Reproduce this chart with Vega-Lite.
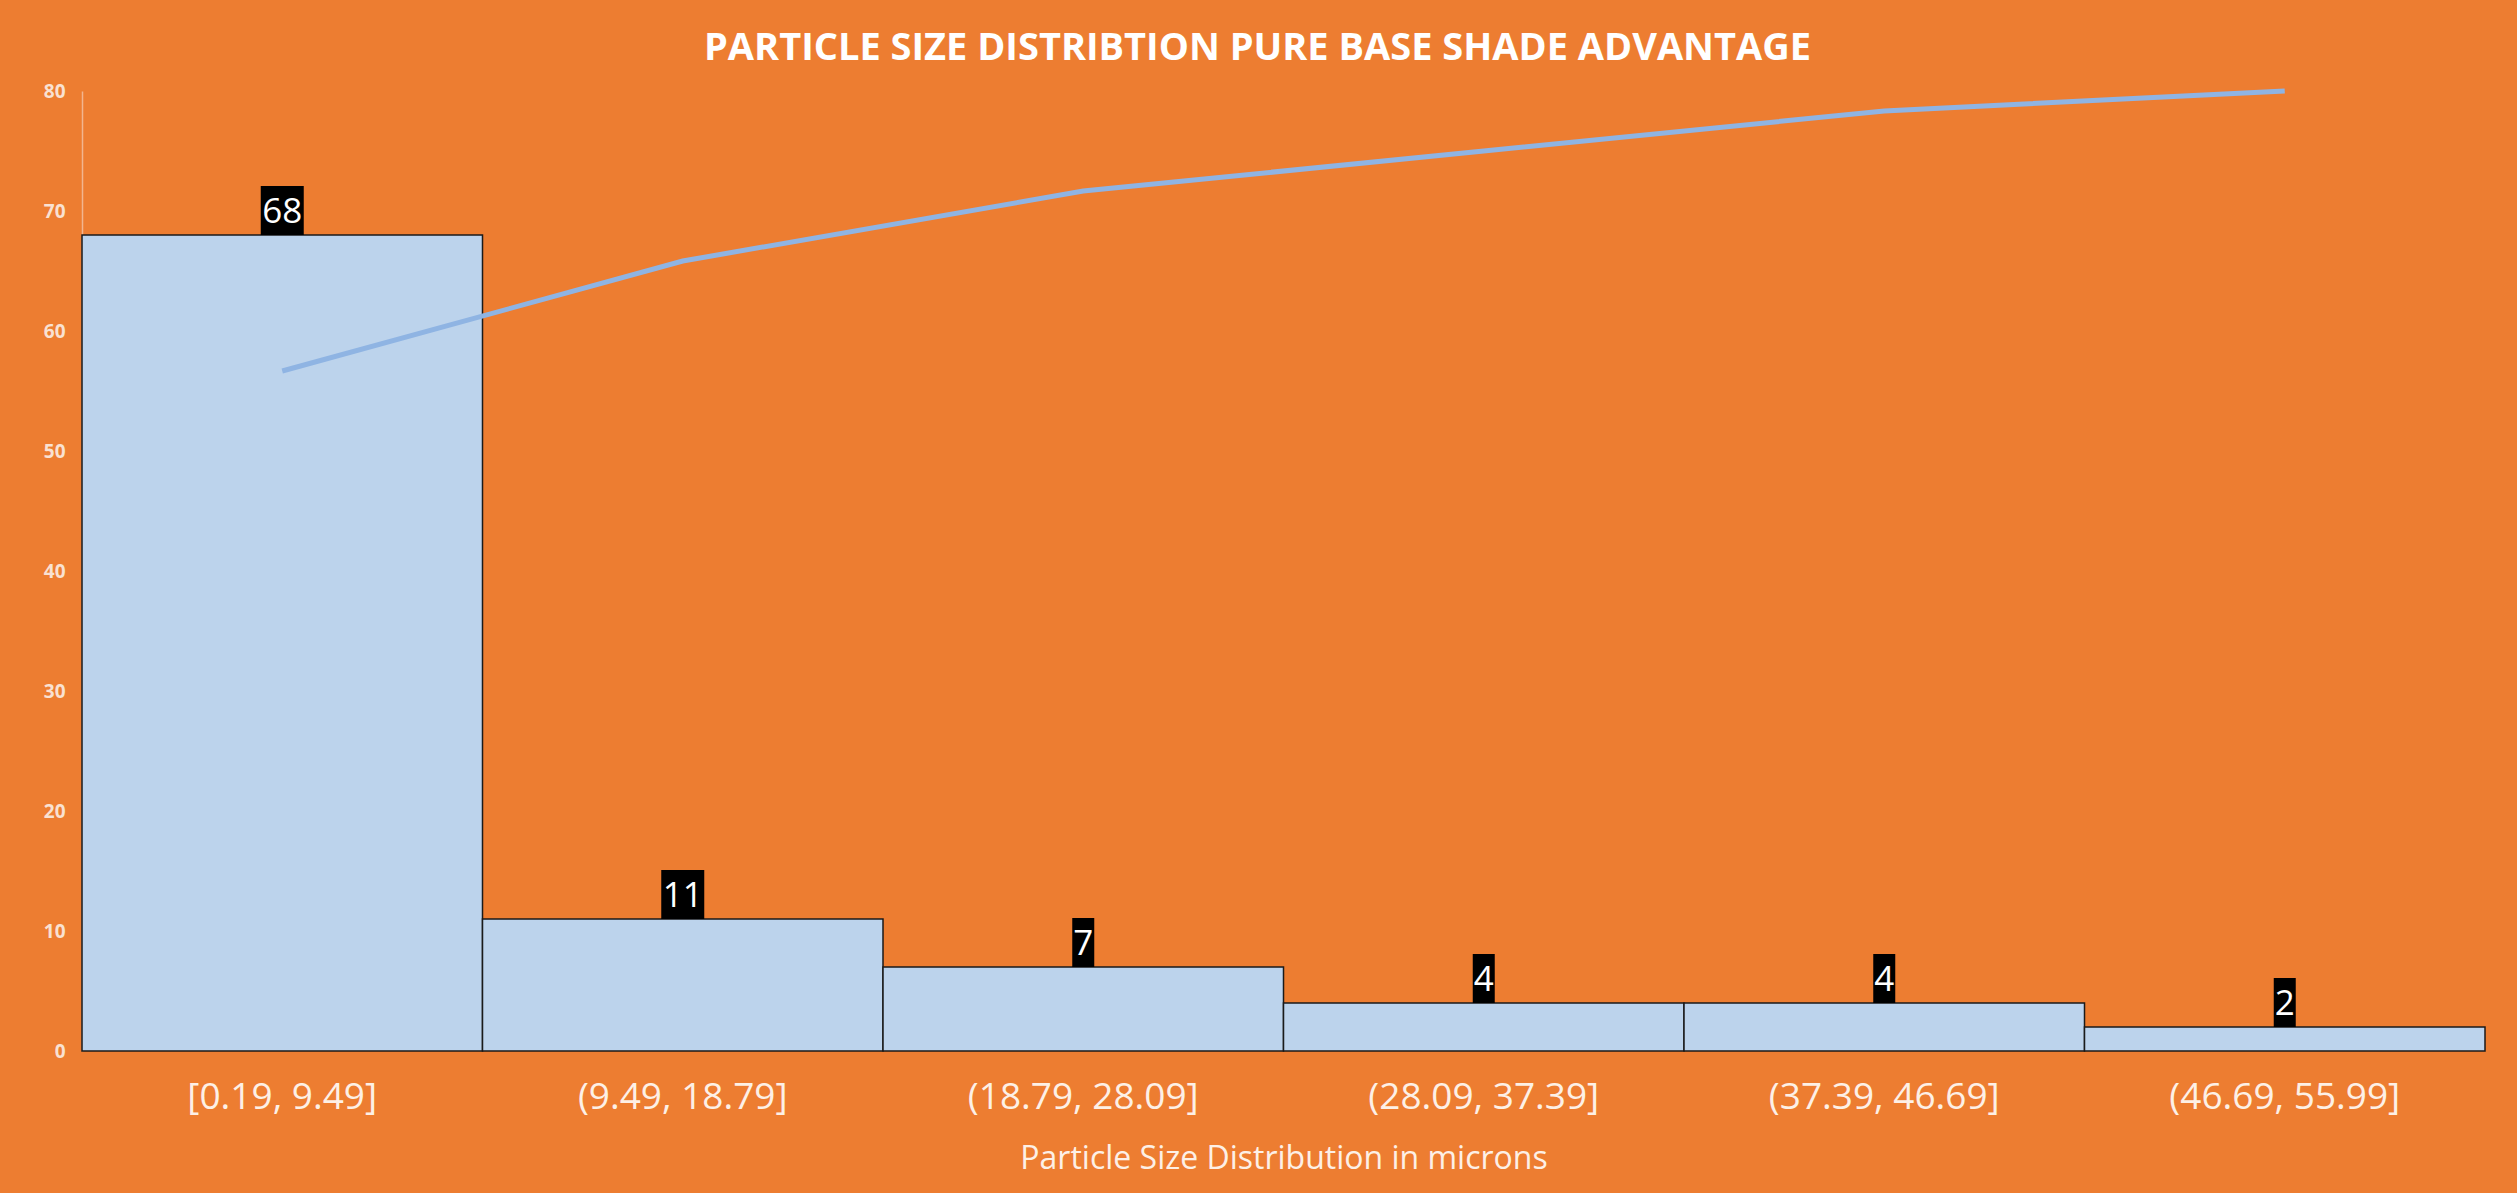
{
  "$schema": "https://vega.github.io/schema/vega-lite/v6.json",
  "autosize": "none",
  "width": 2403,
  "height": 960,
  "padding": {"left": 82, "top": 91, "right": 32, "bottom": 142},
  "background": "#ED7D31",
  "config": {
    "view": {"stroke": null},
    "font": "Open Sans"
  },
  "title": {
    "text": "PARTICLE SIZE DISTRIBTION PURE BASE SHADE ADVANTAGE",
    "font": "Open Sans",
    "fontSize": 38,
    "fontWeight": "bold",
    "color": "#FFFFFF",
    "anchor": "middle",
    "frame": "group",
    "dx": -26,
    "offset": 13
  },
  "data": {
    "values": [
      {"bin": "[0.19, 9.49]", "count": 68, "cum": 70.83},
      {"bin": "(9.49, 18.79]", "count": 11, "cum": 82.29},
      {"bin": "(18.79, 28.09]", "count": 7, "cum": 89.58},
      {"bin": "(28.09, 37.39]", "count": 4, "cum": 93.75},
      {"bin": "(37.39, 46.69]", "count": 4, "cum": 97.92},
      {"bin": "(46.69, 55.99]", "count": 2, "cum": 100}
    ]
  },
  "encoding": {
    "x": {
      "field": "bin",
      "type": "nominal",
      "sort": null,
      "scale": {"paddingInner": 0, "paddingOuter": 0},
      "axis": {
        "title": "Particle Size Distribution in microns",
        "labelAngle": 0,
        "labelFont": "Open Sans",
        "labelFontSize": 37,
        "labelLimit": 0,
        "labelColor": "#FDF0E6",
        "labelPadding": 28,
        "ticks": false,
        "domain": false,
        "grid": false,
        "titleFont": "Open Sans",
        "titleFontSize": 32,
        "titleFontWeight": "normal",
        "titleColor": "#FDF0E6",
        "titlePadding": 28
      }
    }
  },
  "layer": [
    {
      "encoding": {
        "y": {
          "field": "count",
          "type": "quantitative",
          "scale": {"domain": [0, 80], "nice": false},
          "axis": {
            "title": null,
            "values": [0, 10, 20, 30, 40, 50, 60, 70, 80],
            "labelFont": "Open Sans",
            "labelFontSize": 19,
            "labelFontWeight": "bold",
            "labelColor": "#F9E1D2",
            "labelPadding": 17,
            "ticks": false,
            "grid": false,
            "domain": true,
            "domainColor": "#F2B58F",
            "domainWidth": 1.5
          }
        }
      },
      "layer": [
        {
          "mark": {"type": "bar", "fill": "#BCD3EC", "stroke": "#1A1A1A", "strokeWidth": 1.5}
        },
        {
          "transform": [{"filter": "datum.count >= 10"}],
          "mark": {"type": "tick", "orient": "vertical", "thickness": 43, "size": 49, "yOffset": -24.5, "color": "#000000", "opacity": 1}
        },
        {
          "transform": [{"filter": "datum.count < 10"}],
          "mark": {"type": "tick", "orient": "vertical", "thickness": 22, "size": 49, "yOffset": -24.5, "color": "#000000", "opacity": 1}
        },
        {
          "mark": {"type": "text", "font": "Open Sans", "fontSize": 35, "color": "#FFFFFF", "baseline": "alphabetic", "dy": -12},
          "encoding": {"text": {"field": "count", "type": "quantitative"}}
        }
      ]
    },
    {
      "mark": {"type": "line", "color": "#8FB4E3", "strokeWidth": 5},
      "encoding": {
        "y": {
          "field": "cum",
          "type": "quantitative",
          "scale": {"domain": [0, 100], "nice": false},
          "axis": null
        }
      }
    }
  ],
  "resolve": {"scale": {"y": "independent"}}
}
